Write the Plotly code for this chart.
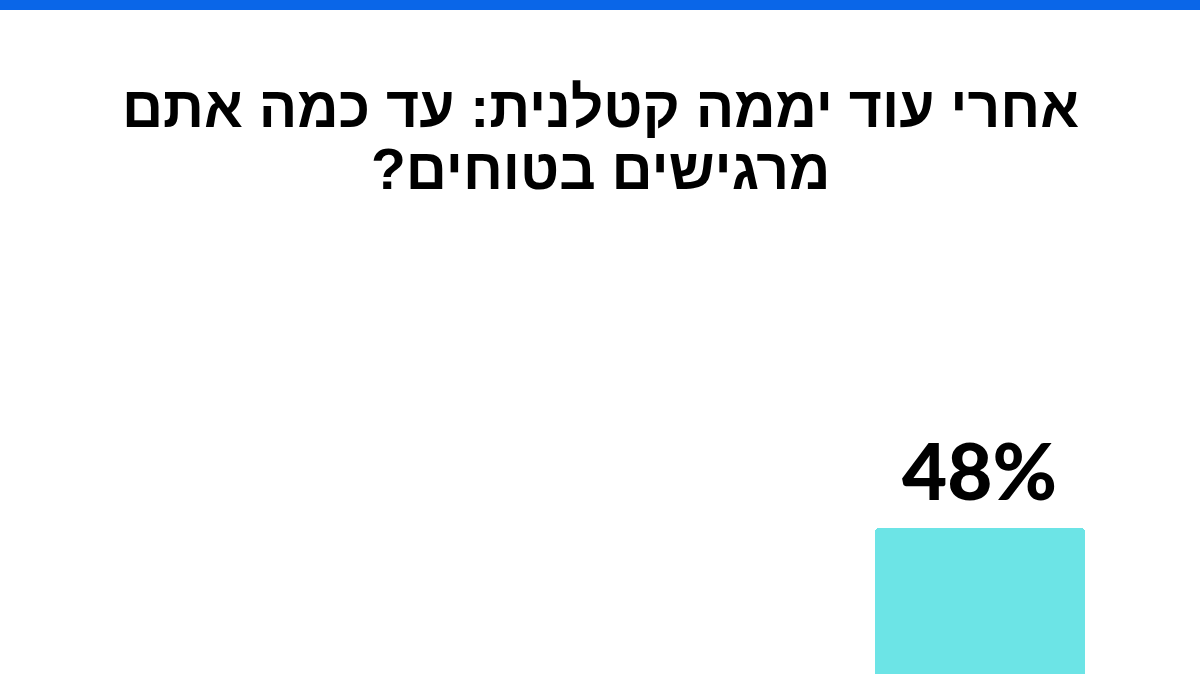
import plotly.graph_objects as go

answer_index = [0]
answer_values = [48]
value_labels = ["48%"]

title_lines = ["אחרי עוד יממה קטלנית: עד כמה אתם", "מרגישים בטוחים?"]

BAR_COLOR = "#6CE4E6"
TOP_STRIPE = "#0A66E8"
RLM = "\u200f"

fig = go.Figure()
fig.add_trace(go.Bar(
    x=answer_index,
    y=answer_values,
    width=1,
    marker=dict(color=BAR_COLOR, line=dict(width=0), cornerradius=4),
    hoverinfo="skip",
    showlegend=False,
))

for xi, v, lab in zip(answer_index, answer_values, value_labels):
    fig.add_annotation(
        x=xi, y=v, text=lab, showarrow=False,
        xanchor="center", yanchor="bottom", yshift=9,
        font=dict(family="Lato", size=78, color="#000000", weight=900),
    )

# title lines (RTL)
for i, line in enumerate(title_lines):
    fig.add_annotation(
        xref="paper", yref="paper", x=0.5, y=1 - (73 + 62 * i) / 674,
        xanchor="center", yanchor="top", showarrow=False,
        text=RLM + line + RLM,
        font=dict(family="Liberation Sans", size=57, color="#000000", weight=700),
    )

fig.add_shape(type="rect", xref="paper", yref="paper",
              x0=0, x1=1, y0=1 - 10 / 674, y1=1,
              fillcolor=TOP_STRIPE, line=dict(width=0), layer="above")

fig.update_layout(
    width=1200, height=674,
    margin=dict(l=0, r=0, t=0, b=0),
    paper_bgcolor="white", plot_bgcolor="white",
    xaxis=dict(range=[-4.667, 1.048], visible=False, fixedrange=True),
    yaxis=dict(range=[40, 76.93], visible=False, fixedrange=True),
    bargap=0,
)

fig.write_html("out.html", config={"displayModeBar": False},
               post_script="document.body.style.margin='0';document.body.style.overflow='hidden';")
